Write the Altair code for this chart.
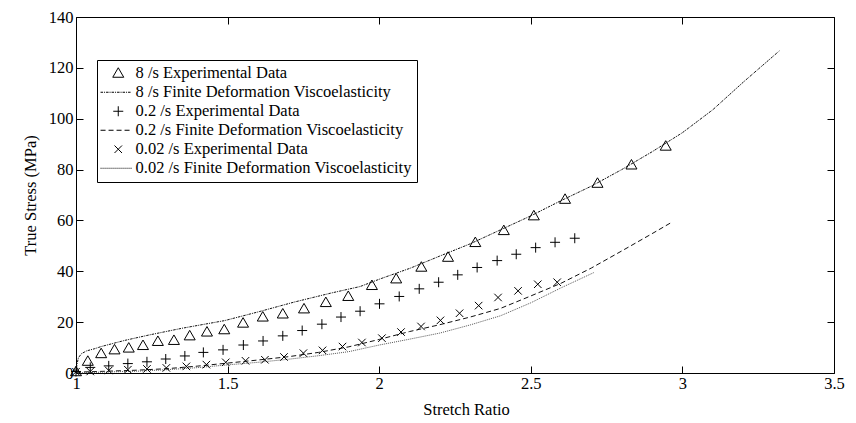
import altair as alt
import pandas as pd

# ---- data ----
LABELS = [
    "8 /s Experimental Data",
    "8 /s Finite Deformation Viscoelasticity",
    "0.2 /s Experimental Data",
    "0.2 /s Finite Deformation Viscoelasticity",
    "0.02 /s Experimental Data",
    "0.02 /s Finite Deformation Viscoelasticity",
]

tri_x = [1.0, 1.039, 1.083, 1.127, 1.174, 1.221, 1.27, 1.323, 1.375, 1.432, 1.489, 1.551, 1.616, 1.682,
         1.752, 1.824, 1.898, 1.976, 2.056, 2.139, 2.227, 2.317, 2.411, 2.51, 2.613, 2.72, 2.832, 2.945]
tri_y = [0.5, 4.6, 7.6, 9.1, 9.8, 10.8, 12.4, 12.8, 14.6, 16.1, 17.0, 19.6, 22.0, 23.2,
         25.2, 27.7, 30.1, 34.4, 37.0, 41.6, 45.5, 51.3, 56.0, 61.8, 68.3, 74.6, 81.8, 89.2]

plus_x = [1.0, 1.047, 1.108, 1.171, 1.234, 1.296, 1.359, 1.42, 1.485, 1.552, 1.617, 1.682, 1.746, 1.811,
          1.874, 1.937, 2.001, 2.066, 2.132, 2.196, 2.259, 2.323, 2.389, 2.452, 2.516, 2.58, 2.645]
plus_y = [0.6, 2.2, 2.8, 3.7, 4.4, 5.5, 6.7, 8.1, 9.1, 11.0, 12.6, 14.6, 16.7, 19.2,
          22.0, 24.3, 27.2, 30.1, 33.1, 35.7, 38.6, 41.5, 44.2, 46.7, 49.3, 51.4, 53.0]

cross_x = [1.0, 1.047, 1.108, 1.171, 1.234, 1.298, 1.364, 1.43, 1.494, 1.559, 1.623, 1.686, 1.75,
           1.813, 1.879, 1.943, 2.009, 2.072, 2.138, 2.202, 2.265, 2.328, 2.392, 2.458, 2.523, 2.587]
cross_y = [0.5, 0.6, 1.0, 1.3, 1.6, 2.0, 2.6, 3.3, 4.2, 4.8, 5.2, 6.3, 7.8,
           8.9, 10.4, 12.0, 13.7, 16.1, 18.3, 20.7, 23.5, 26.5, 29.7, 32.3, 34.9, 35.7]

m8_x = [1.0, 1.003, 1.008, 1.018, 1.035, 1.06, 1.083, 1.16, 1.243, 1.35, 1.49, 1.6, 1.72, 1.84, 1.937,
        2.003, 2.102, 2.2, 2.3, 2.4, 2.5, 2.6, 2.7, 2.8, 2.9, 3.0, 3.1, 3.2, 3.32]
m8_y = [0.0, 3.3, 6.0, 7.6, 8.7, 9.5, 10.4, 12.8, 15.0, 17.6, 20.6, 24.0, 27.9, 31.4, 34.0,
        37.0, 41.2, 46.0, 50.8, 56.3, 61.8, 67.8, 73.5, 80.0, 87.0, 94.5, 103.5, 114.3, 126.7]

m02_x = [1.0, 1.02, 1.1, 1.2, 1.3, 1.4, 1.5, 1.6, 1.7, 1.8, 1.9, 2.0, 2.1, 2.2, 2.3, 2.4, 2.5, 2.6,
         2.7, 2.8, 2.9, 2.968]
m02_y = [0.0, 0.4, 0.7, 1.1, 1.7, 2.7, 3.9, 5.1, 6.4, 8.1, 10.3, 13.2, 16.3, 19.0, 22.0, 25.4, 30.3, 35.3,
         41.3, 48.0, 54.8, 59.5]

m002_x = [1.0, 1.1, 1.2, 1.3, 1.4, 1.5, 1.6, 1.7, 1.8, 1.9, 2.0, 2.1, 2.2, 2.3, 2.4, 2.5, 2.6, 2.708]
m002_y = [0.0, 0.4, 0.7, 1.3, 2.1, 3.2, 4.2, 5.4, 6.8, 8.4, 11.0, 13.3, 15.7, 18.9, 22.5, 27.6, 33.5, 39.5]

x_ticks = [1, 1.5, 2, 2.5, 3, 3.5]
y_ticks = [0, 20, 40, 60, 80, 100, 120, 140]

# ---- tables ----
exp_df = pd.concat([
    pd.DataFrame({"x": tri_x, "y": tri_y, "series": LABELS[0]}),
    pd.DataFrame({"x": plus_x, "y": plus_y, "series": LABELS[2]}),
    pd.DataFrame({"x": cross_x, "y": cross_y, "series": LABELS[4]}),
])
mod_df = pd.concat([
    pd.DataFrame({"x": m8_x, "y": m8_y, "series": LABELS[1]}),
    pd.DataFrame({"x": m02_x, "y": m02_y, "series": LABELS[3]}),
    pd.DataFrame({"x": m002_x, "y": m002_y, "series": LABELS[5]}),
])

MODELS = [LABELS[1], LABELS[3], LABELS[5]]
DASHES = [[2.5, 1, 1, 1], [5, 3], [1, 1]]

# legend symbol paths (unit = 5px at symbol size 100)
def dash_path(x0, x1, pattern):
    segs = []
    x = x0
    i = 0
    while x < x1 - 1e-9:
        L = pattern[i % len(pattern)]
        if i % 2 == 0:
            segs.append("M%.3f,0H%.3f" % (x / 5.0, min(x + L, x1) / 5.0))
        x += L
        i += 1
    return "".join(segs)

TRI = "M0,-1.1L1.1,0.8L-1.1,0.8Z"
PLUS = "M-1,0H1M0,-1V1"
CROSS = "M-0.75,-0.75L0.75,0.75M-0.75,0.75L0.75,-0.75"
LX0, LX1 = -17.7, 13.3
SHAPES = [TRI, dash_path(LX0, LX1, DASHES[0]), PLUS, dash_path(LX0, LX1, DASHES[1]),
          CROSS, dash_path(LX0, LX1, DASHES[2])]

FONT = "Liberation Serif"
TS = {"expr": "-7"}

xscale = alt.Scale(domain=[1, 3.5], nice=False, zero=False)
yscale = alt.Scale(domain=[0, 140], nice=False, zero=False)

x_main = alt.Axis(values=x_ticks, format="~g", title="Stretch Ratio", tickSize=TS, labelPadding=9,
                  domain=False, grid=False, labelFlush=False, labelFont=FONT, labelFontSize=16.5,
                  labelColor="black", tickColor="black", titleFont=FONT, titleFontSize=16.5,
                  titleFontWeight="normal", titleColor="black", titlePadding=10, titleX=390)
y_main = alt.Axis(values=y_ticks, title="True Stress (MPa)", tickSize=TS, labelPadding=10,
                  domain=False, grid=False, labelFlush=False, labelFont=FONT, labelFontSize=16.5,
                  labelColor="black", tickColor="black", titleFont=FONT, titleFontSize=16.5,
                  titleFontWeight="normal", titleColor="black", titlePadding=10)
x_top = alt.Axis(orient="top", values=x_ticks, labels=False, title=None, tickSize=TS,
                 domain=False, grid=False, tickColor="black")
y_right = alt.Axis(orient="right", values=y_ticks, labels=False, title=None, tickSize=TS,
                   domain=False, grid=False, tickColor="black")

lines = alt.Chart(mod_df).mark_line(strokeWidth=1).encode(
    x=alt.X("x:Q", scale=xscale, axis=x_main),
    y=alt.Y("y:Q", scale=yscale, axis=y_main),
    strokeDash=alt.StrokeDash("series:N", scale=alt.Scale(domain=MODELS, range=DASHES), legend=None),
    color=alt.Color("series:N", scale=alt.Scale(domain=MODELS, range=["#111111", "#111111", "#555555"]),
                    legend=None),
    order=alt.Order("x:Q"),
)

points = alt.Chart(exp_df).mark_point(filled=False, color="black", strokeWidth=1, size=100, opacity=1).encode(
    x=alt.X("x:Q", scale=xscale, axis=x_top),
    y=alt.Y("y:Q", scale=yscale, axis=y_right),
    shape=alt.Shape("series:N", scale=alt.Scale(domain=LABELS, range=SHAPES),
                    legend=alt.Legend(title=None, orient="none", legendX=21, legendY=43,
                                      strokeColor="black", fillColor="white", padding=5,
                                      symbolSize=100, symbolStrokeWidth=1, symbolStrokeColor="black",
                                      symbolFillColor="transparent", symbolOffset=8,
                                      labelOffset=9, labelFont=FONT, labelFontSize=16.5,
                                      labelColor="black", labelLimit=500, rowPadding=2,
                                      cornerRadius=0)),
)

chart = alt.layer(lines, points).resolve_axis(x="independent", y="independent").properties(
    width=758, height=356,
    padding={"left": 68, "top": 9, "right": 14, "bottom": 46},
    autosize=alt.AutoSizeParams(type="none"),
    background="white",
).configure_view(stroke="black", strokeWidth=1)

chart.save("out.html", embed_options={"renderer": "svg", "actions": False})
